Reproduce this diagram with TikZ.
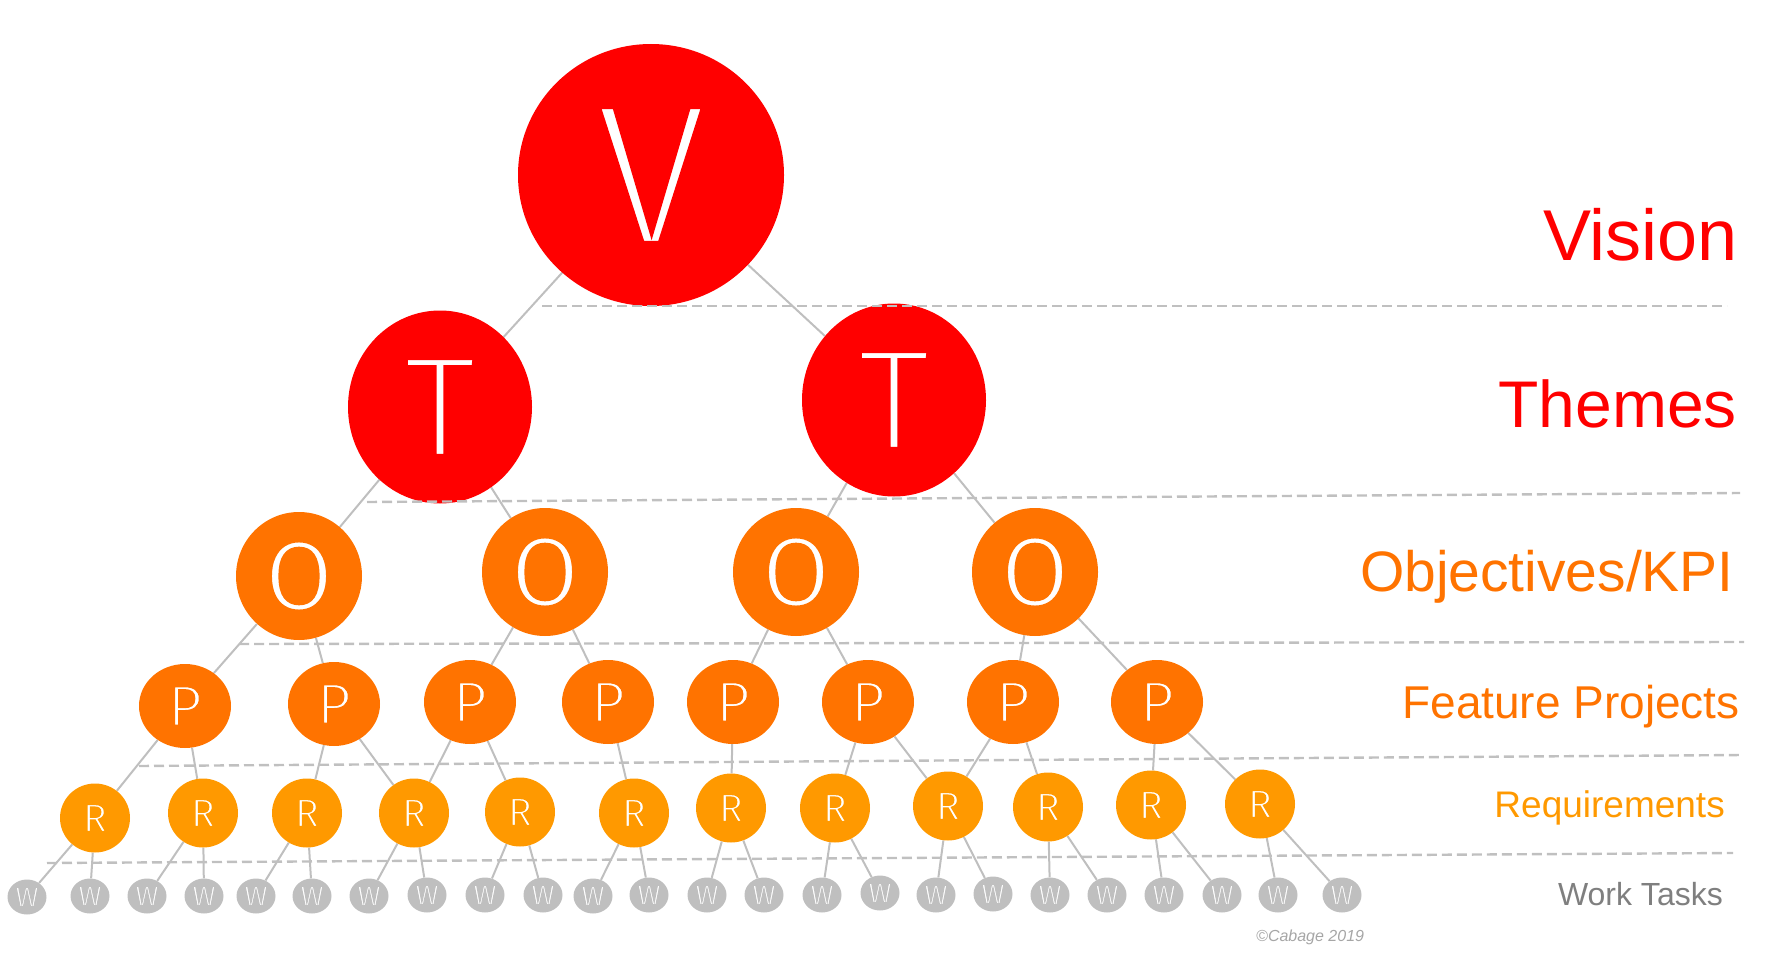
\documentclass[tikz,border=0pt]{standalone}
\usepackage{fontspec}
\setmainfont{Liberation Sans}
\newfontfamily\ltfont{Fira Sans}
\usetikzlibrary{shapes.geometric}
\definecolor{vred}{HTML}{FF0000}
\definecolor{oorange}{HTML}{FF7300}
\definecolor{rorange}{HTML}{FF9900}
\definecolor{wgrey}{HTML}{BFBFBF}
\definecolor{lgrey}{HTML}{C0C0C0}
\definecolor{tgrey}{HTML}{7F7F7F}
\definecolor{cgrey}{HTML}{A6A6A6}
% thin a white glyph by stroking its outline in the bubble colour
\newcommand\thinglyph[3]{\special{pdf:literal direct 2 Tr #1 RG #2 w}#3\special{pdf:literal direct 0 Tr}}
\pgfdeclarelayer{bg}
\pgfsetlayers{bg,main}
\begin{document}
\begin{tikzpicture}[x=1pt,y=-1pt,
  bubble/.style={ellipse, inner sep=0pt, text=white},
  vis/.style={bubble, fill=vred, minimum width=266pt, minimum height=262pt, font=\ltfont\fontsize{204}{204}\selectfont},
  thm/.style={bubble, fill=vred, minimum width=184pt, minimum height=193pt, font=\ltfont\fontsize{146}{146}\selectfont},
  obj/.style={bubble, fill=oorange, minimum width=126pt, minimum height=128pt, font=\ltfont\fontsize{99}{99}\selectfont},
  prj/.style={bubble, fill=oorange, minimum width=92pt, minimum height=84pt, font=\ltfont\fontsize{58}{58}\selectfont},
  req/.style={bubble, fill=rorange, minimum width=70pt, minimum height=69pt, font=\ltfont\fontsize{40}{40}\selectfont},
  wrk/.style={bubble, fill=wgrey, minimum width=39pt, minimum height=35pt, font=\ltfont\fontsize{28}{28}\selectfont},
  edge/.style={draw=wgrey, line width=2pt},
  sep/.style={draw=lgrey, line width=2.4pt, dash pattern=on 10pt off 5pt},
  lab/.style={anchor=base east, inner sep=0pt}
]
\useasboundingbox (0,0) rectangle (1783,955);

% Vision and themes
\node[vis] (V) at (651,175) {\thinglyph{1 0 0}{9}{V}};
\node[thm] (T1) at (440,407) {\thinglyph{1 0 0}{7}{T}};
\node[thm] (T2) at (894,400) {\thinglyph{1 0 0}{7}{T}};

% Objectives
\node[obj] (O1) at (299,576) {\thinglyph{1 0.451 0}{3.5}{O}};
\node[obj] (O2) at (545,572) {\thinglyph{1 0.451 0}{3.5}{O}};
\node[obj] (O3) at (796,572) {\thinglyph{1 0.451 0}{3.5}{O}};
\node[obj] (O4) at (1035,572) {\thinglyph{1 0.451 0}{3.5}{O}};

% Feature projects
\foreach \i/\x/\y in {1/185/706,2/334/704,3/470/702,4/608/702,5/733/702,6/868/702,7/1013/702,8/1157/702}
  \node[prj] (P\i) at (\x,\y) {\thinglyph{1 0.451 0}{2.5}{P}};

% Requirements
\foreach \i/\x/\y in {1/95/818,2/203/813,3/307/813,4/414/813,5/520/812,6/634/813,7/731/808,8/835/808,9/948/806,10/1048/807,11/1151/805,12/1260/804}
  \node[req] (R\i) at (\x,\y) {\thinglyph{1 0.6 0}{1.6}{R}};

% Work tasks
\foreach \i/\x/\y in {1/27/897,2/90/896,3/147/896,4/204/896,5/256/896,6/312/896,7/369/896,8/427/895,9/485/895,10/543/895,11/593/896,12/649/895,13/707/895,14/764/895,15/822/895,16/880/893,17/936/895,18/993/894,19/1050/895,20/1107/895,21/1164/895,22/1222/895,23/1278/895,24/1342/895}
  \node[wrk] (W\i) at (\x,\y) {\thinglyph{0.749 0.749 0.749}{1.1}{W}};

% Connectors
\begin{pgfonlayer}{bg}
\foreach \a/\b in {V/T1,V/T2,T1/O1,T1/O2,T2/O3,T2/O4,
  O1/P1,O1/P2,O2/P3,O2/P4,O3/P5,O3/P6,O4/P7,O4/P8,
  P1/R1,P1/R2,P2/R3,P2/R4,P3/R4,P3/R5,P4/R6,P5/R7,P6/R8,P6/R9,P7/R9,P7/R10,P8/R11,P8/R12}
  \draw[edge] (\a) -- (\b);
\foreach \r [evaluate=\r as \wa using int(2*\r-1), evaluate=\r as \wb using int(2*\r)] in {1,...,12}{
  \draw[edge] (R\r) -- (W\wa);
  \draw[edge] (R\r) -- (W\wb);
}
\end{pgfonlayer}

% Level separators
\coordinate (s1a) at (542,306);  \coordinate (s1b) at (1727,306);
\coordinate (s2a) at (367,502);  \coordinate (s2b) at (1740,493);
\coordinate (s3a) at (239,644);  \coordinate (s3b) at (1744,642);
\coordinate (s4a) at (139,766);  \coordinate (s4b) at (1743,755);
\coordinate (s5a) at (47,863);   \coordinate (s5b) at (1733,853);
\draw[sep] (s1a) -- (s1b);
\draw[sep] (s2a) -- (s2b);
\draw[sep] (s3a) -- (s3b);
\draw[sep] (s4a) -- (s4b);
\draw[sep] (s5a) -- (s5b);

% Level labels
\node[lab, text=vred, font=\fontsize{72}{72}\selectfont] (lv) at (1738,260) {Vision};
\node[lab, text=vred, font=\fontsize{66}{66}\selectfont] (lt) at (1737,427) {Themes};
\node[lab, text=oorange, font=\fontsize{57}{57}\selectfont] (lo) at (1734,591) {Objectives/KPI};
\node[lab, text=oorange, font=\fontsize{46}{46}\selectfont] (lp) at (1740,718) {Feature Projects};
\node[lab, text=rorange, font=\fontsize{37}{37}\selectfont] (lr) at (1725,817) {Requirements};
\node[lab, text=tgrey, font=\fontsize{32}{32}\selectfont] (lw) at (1723,905) {Work Tasks};
\node[anchor=base west, inner sep=0pt, text=cgrey, font=\itshape\fontsize{16}{16}\selectfont] (cp) at (1256,941) {©Cabage 2019};
\end{tikzpicture}
\end{document}
